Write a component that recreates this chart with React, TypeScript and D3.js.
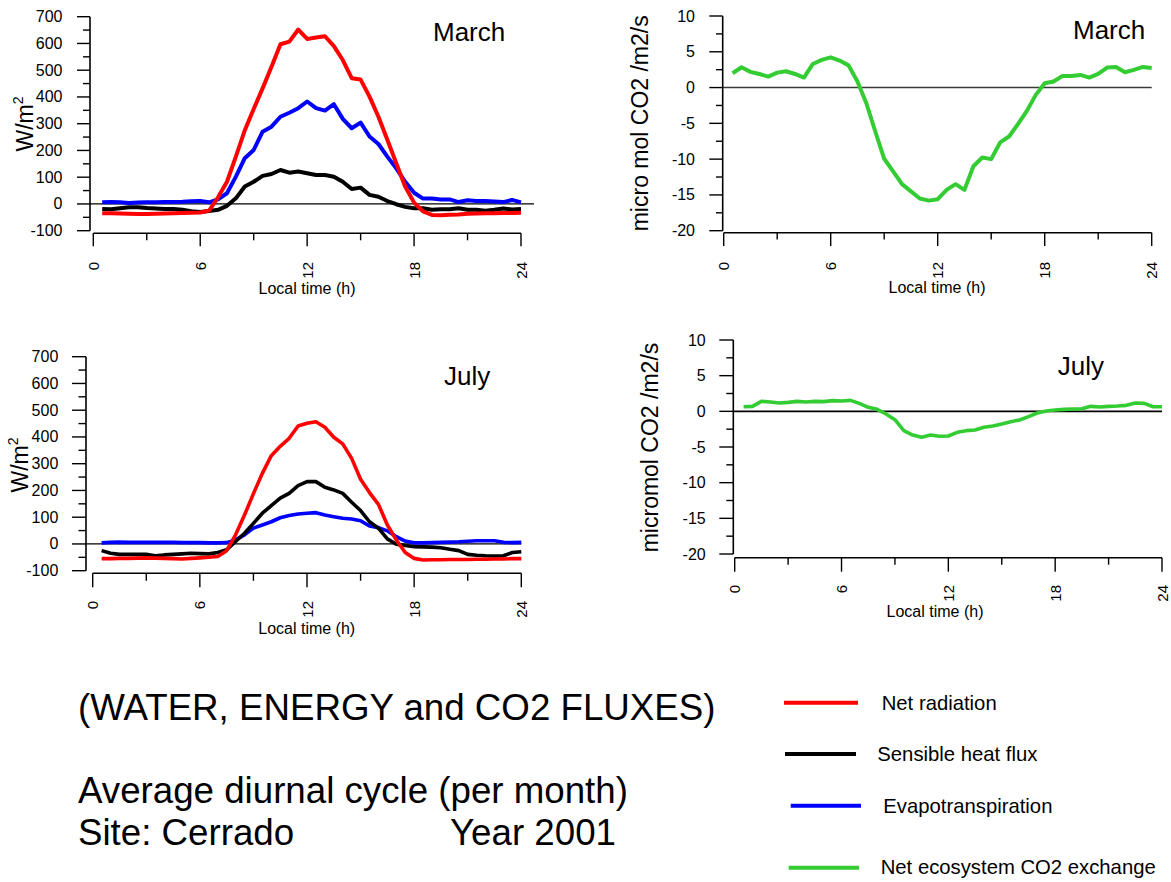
import * as d3 from 'd3'

// half-hourly averages, 00:30 .. 24:00 local time
const hours = [
  0.5, 1, 1.5, 2, 2.5, 3, 3.5, 4, 4.5, 5, 5.5, 6,
  6.5, 7, 7.5, 8, 8.5, 9, 9.5, 10, 10.5, 11, 11.5, 12,
  12.5, 13, 13.5, 14, 14.5, 15, 15.5, 16, 16.5, 17, 17.5, 18,
  18.5, 19, 19.5, 20, 20.5, 21, 21.5, 22, 22.5, 23, 23.5, 24,
]

// March, W/m2
const marchNetRad = [
  -35, -35, -36, -37, -38, -38, -37, -36, -35, -34, -33, -32,
  -25, 25, 83, 177, 275, 355, 432, 513, 597, 607, 652, 617,
  622, 627, 590, 538, 470, 465, 401, 326, 240, 152, 65, 5,
  -28, -41, -42, -40, -39, -37, -36, -35, -35, -34, -34, -33,
]
const marchSensible = [
  -19, -20, -16, -12, -12, -15, -17, -19, -19, -22, -27, -30,
  -26, -22, -7, 21, 65, 83, 105, 112, 127, 117, 121, 115,
  108, 108, 102, 83, 56, 61, 34, 27, 11, -1, -11, -16,
  -16, -22, -20, -20, -16, -22, -22, -25, -22, -17, -21, -19,
]
const marchEvap = [
  6, 7, 6, 4, 5, 6, 6, 7, 7, 8, 10, 11,
  6, 17, 40, 102, 171, 202, 270, 289, 326, 341, 358, 383,
  358, 349, 373, 318, 283, 304, 252, 224, 177, 133, 83, 42,
  20, 20, 17, 17, 7, 14, 11, 11, 9, 7, 15, 6,
]
// March, micro mol CO2 /m2/s
const marchNee = [
  2.0, 2.84, 2.19, 1.9, 1.53, 2.09, 2.28, 1.9, 1.4, 3.3, 3.86, 4.23,
  3.77, 3.1, 0.84, -2.19, -6.14, -9.95, -11.7, -13.5, -14.5, -15.5, -15.8, -15.6,
  -14.3, -13.5, -14.3, -11.0, -9.77, -10.0, -7.67, -6.84, -5.1, -3.26, -1.02, 0.6,
  0.84, 1.63, 1.63, 1.77, 1.4, 1.9, 2.79, 2.88, 2.14, 2.47, 2.88, 2.74,
]

// July, W/m2
const julyNetRad = [
  -55, -55, -54, -54, -53, -52, -53, -54, -55, -56, -54, -52,
  -50, -47, -25, 34, 108, 188, 264, 330, 365, 395, 441, 451,
  457, 436, 399, 374, 320, 242, 192, 148, 71, 15, -32, -54,
  -60, -59, -59, -58, -58, -58, -57, -57, -56, -56, -55, -55,
]
const julySensible = [
  -25, -35, -39, -39, -39, -39, -44, -41, -39, -37, -35, -36,
  -37, -32, -22, 9, 40, 77, 115, 143, 171, 189, 218, 233,
  233, 212, 202, 189, 156, 125, 83, 59, 19, -1, -6, -10,
  -11, -12, -14, -20, -25, -39, -42, -44, -45, -44, -32, -29,
]
const julyEvap = [
  4, 6, 7, 6, 6, 6, 6, 6, 6, 5, 5, 5,
  4, 4, 5, 15, 34, 59, 71, 83, 98, 106, 112, 115,
  117, 108, 102, 96, 93, 87, 67, 61, 49, 27, 11, 4,
  4, 5, 6, 7, 8, 10, 12, 12, 12, 6, 5, 6,
]
// July, micromol CO2 /m2/s
const julyNee = [
  0.65, 0.7, 1.4, 1.31, 1.17, 1.26, 1.4, 1.31, 1.4, 1.36, 1.5, 1.45,
  1.54, 1.12, 0.56, 0.28, -0.37, -1.17, -2.71, -3.32, -3.64, -3.32, -3.5, -3.46,
  -2.94, -2.71, -2.62, -2.24, -2.06, -1.78, -1.45, -1.21, -0.75, -0.23, 0.05, 0.19,
  0.28, 0.33, 0.37, 0.7, 0.61, 0.7, 0.75, 0.84, 1.17, 1.12, 0.65, 0.65,
]

const xTicks = [0, 6, 12, 18, 24]
const xMinorTicks = [3, 9, 15, 21]
const energyTicks = [-100, 0, 100, 200, 300, 400, 500, 600, 700]
const energyMinorTicks = [-50, 50, 150, 250, 350, 450, 550, 650]
const co2Ticks = [-20, -15, -10, -5, 0, 5, 10]
const co2MinorTicks = [-17.5, -12.5, -7.5, -2.5, 2.5, 7.5]

const RED = '#ff0000'
const BLACK = '#000000'
const BLUE = '#0000ff'
const GREEN = '#33cc33'
const FONT = 'Liberation Sans, Arial, sans-serif'

const legendLabels = ['Net radiation', 'Sensible heat flux', 'Evapotranspiration', 'Net ecosystem CO2 exchange']
const legendColors = [RED, BLACK, BLUE, GREEN]

type Series = {values: number[]; color: string}

type Frame = {
  axisX: number
  x0: number
  x1: number
  yTop: number
  yBottom: number
  axisY: number
  tickRight: number
  majorLen: number
  minorLen: number
  xLabelTop: number
  xTitleX: number
  xTitleY: number
  yTitleX: number
  yTitleY: number
  monthX: number
  monthY: number
  zeroEnd: number
  zeroColor: string
  zeroWidth: number
  lineWidth: number
}

type PanelProps = {
  frame: Frame
  domain: [number, number]
  ticks: number[]
  minorTicks: number[]
  series: Series[]
  month: string
  yTitle: string
  energy: boolean
}

function Panel({frame: f, domain, ticks, minorTicks, series, month, yTitle, energy}: PanelProps) {
  const x = d3.scaleLinear().domain([0, 24]).range([f.x0, f.x1])
  const y = d3.scaleLinear().domain(domain).range([f.yBottom, f.yTop])
  const line = d3.line<number>()
    .x((_, i) => x(hours[i]))
    .y(d => y(d))

  return (
    <g fontFamily={FONT} fill={BLACK}>
      {/* zero line */}
      <line x1={f.axisX} x2={f.zeroEnd} y1={y(0)} y2={y(0)} stroke={f.zeroColor} strokeWidth={f.zeroWidth} />

      {/* y axis */}
      <line x1={f.axisX} x2={f.axisX} y1={y(domain[1])} y2={y(domain[0])} stroke={BLACK} strokeWidth={1.6} />
      {ticks.map(t => (
        <g key={'y' + t}>
          <line x1={f.axisX - f.majorLen} x2={f.axisX} y1={y(t)} y2={y(t)} stroke={BLACK} strokeWidth={1.4} />
          <text x={f.tickRight} y={y(t)} textAnchor={'end'} dominantBaseline={'central'} fontSize={16}>
            {t}
          </text>
        </g>
      ))}
      {minorTicks.map(t => (
        <line key={'ym' + t} x1={f.axisX - f.minorLen} x2={f.axisX} y1={y(t)} y2={y(t)} stroke={BLACK} strokeWidth={1.4} />
      ))}

      {/* x axis */}
      <line x1={x(0)} x2={x(24)} y1={f.axisY} y2={f.axisY} stroke={BLACK} strokeWidth={1.6} />
      {xTicks.map(t => (
        <g key={'x' + t}>
          <line x1={x(t)} x2={x(t)} y1={f.axisY} y2={f.axisY + f.majorLen} stroke={BLACK} strokeWidth={1.4} />
          <text
            transform={`translate(${x(t)}, ${f.xLabelTop}) rotate(-90)`}
            textAnchor={'end'}
            dominantBaseline={'central'}
            fontSize={15}
          >
            {t}
          </text>
        </g>
      ))}
      {xMinorTicks.map(t => (
        <line key={'xm' + t} x1={x(t)} x2={x(t)} y1={f.axisY} y2={f.axisY + f.minorLen} stroke={BLACK} strokeWidth={1.4} />
      ))}
      <text x={f.xTitleX} y={f.xTitleY} textAnchor={'middle'} fontSize={16}>
        Local time (h)
      </text>

      {/* y title */}
      <text
        transform={`translate(${f.yTitleX}, ${f.yTitleY}) rotate(-90)`}
        textAnchor={'middle'}
        fontSize={23}
      >
        {yTitle}
        {energy && <tspan fontSize={14} dy={-10}>2</tspan>}
      </text>

      <text x={f.monthX} y={f.monthY} fontSize={26}>{month}</text>

      {series.map((s, i) => (
        <path
          key={i}
          d={line(s.values) ?? undefined}
          fill={'none'}
          stroke={s.color}
          strokeWidth={f.lineWidth}
          strokeLinejoin={'round'}
        />
      ))}
    </g>
  )
}

const frameTL: Frame = {
  axisX: 90, x0: 93.3, x1: 521, yTop: 16.7, yBottom: 230.7, axisY: 233.3,
  tickRight: 62.5, majorLen: 13, minorLen: 7, xLabelTop: 262,
  xTitleX: 307, xTitleY: 294, yTitleX: 33, yTitleY: 124,
  monthX: 433, monthY: 41, zeroEnd: 534, zeroColor: BLACK, zeroWidth: 1.2, lineWidth: 4,
}
const frameTR: Frame = {
  axisX: 722.7, x0: 723.7, x1: 1151.7, yTop: 16, yBottom: 230.7, axisY: 232.7,
  tickRight: 695, majorLen: 13.4, minorLen: 6.7, xLabelTop: 262,
  xTitleX: 937, xTitleY: 293.3, yTitleX: 648, yTitleY: 123.3,
  monthX: 1073, monthY: 38.5, zeroEnd: 1151.7, zeroColor: '#3a3a3a', zeroWidth: 1.6, lineWidth: 4,
}
const frameBL: Frame = {
  axisX: 86, x0: 92.7, x1: 521.3, yTop: 356.7, yBottom: 570.7, axisY: 573.3,
  tickRight: 58.3, majorLen: 14, minorLen: 7.5, xLabelTop: 601,
  xTitleX: 306.7, xTitleY: 634, yTitleX: 28.3, yTitleY: 465,
  monthX: 444, monthY: 385, zeroEnd: 521.3, zeroColor: BLACK, zeroWidth: 1.2, lineWidth: 3.6,
}
const frameBR: Frame = {
  axisX: 733.3, x0: 734.7, x1: 1162, yTop: 340, yBottom: 554, axisY: 557.7,
  tickRight: 705.7, majorLen: 14, minorLen: 7, xLabelTop: 585,
  xTitleX: 935, xTitleY: 616.7, yTitleX: 658, yTitleY: 447.5,
  monthX: 1057.7, monthY: 375, zeroEnd: 1162, zeroColor: BLACK, zeroWidth: 1.6, lineWidth: 3.6,
}

// legend line geometry
const legendLines = [
  {x1: 784, x2: 858, y: 702.7, tx: 881.7, ty: 710},
  {x1: 785, x2: 856, y: 754, tx: 877.3, ty: 761},
  {x1: 790.7, x2: 861, y: 805.7, tx: 883.3, ty: 812.6},
  {x1: 788.7, x2: 859, y: 867.7, tx: 880.7, ty: 874.3},
]

export default function App() {
  const width = 1171
  const height = 882

  return (
    <svg
      width={width}
      height={height}
      viewBox={`0 0 ${width} ${height}`}
      style={{position: 'absolute', left: 0, top: 0, background: '#ffffff'}}
    >
      <Panel
        frame={frameTL}
        domain={[-100, 700]}
        ticks={energyTicks}
        minorTicks={energyMinorTicks}
        series={[
          {values: marchEvap, color: BLUE},
          {values: marchSensible, color: BLACK},
          {values: marchNetRad, color: RED},
        ]}
        month={'March'}
        yTitle={'W/m'}
        energy={true}
      />
      <Panel
        frame={frameTR}
        domain={[-20, 10]}
        ticks={co2Ticks}
        minorTicks={co2MinorTicks}
        series={[{values: marchNee, color: GREEN}]}
        month={'March'}
        yTitle={'micro mol CO2 /m2/s'}
        energy={false}
      />
      <Panel
        frame={frameBL}
        domain={[-100, 700]}
        ticks={energyTicks}
        minorTicks={energyMinorTicks}
        series={[
          {values: julyEvap, color: BLUE},
          {values: julySensible, color: BLACK},
          {values: julyNetRad, color: RED},
        ]}
        month={'July'}
        yTitle={'W/m'}
        energy={true}
      />
      <Panel
        frame={frameBR}
        domain={[-20, 10]}
        ticks={co2Ticks}
        minorTicks={co2MinorTicks}
        series={[{values: julyNee, color: GREEN}]}
        month={'July'}
        yTitle={'micromol CO2 /m2/s'}
        energy={false}
      />

      <g fontFamily={FONT} fill={BLACK} fontSize={36.7}>
        <text x={78} y={720}>(WATER, ENERGY and CO2 FLUXES)</text>
        <text x={78} y={803}>Average diurnal cycle (per month)</text>
        <text x={78} y={845}>Site: Cerrado</text>
        <text x={450} y={845}>Year 2001</text>
      </g>

      <g fontFamily={FONT} fill={BLACK} fontSize={20.3}>
        {legendLabels.map((label, i) => {
          const l = legendLines[i]
          return (
            <g key={label}>
              <line x1={l.x1} x2={l.x2} y1={l.y} y2={l.y} stroke={legendColors[i]} strokeWidth={4} />
              <text x={l.tx} y={l.ty}>{label}</text>
            </g>
          )
        })}
      </g>
    </svg>
  )
}
